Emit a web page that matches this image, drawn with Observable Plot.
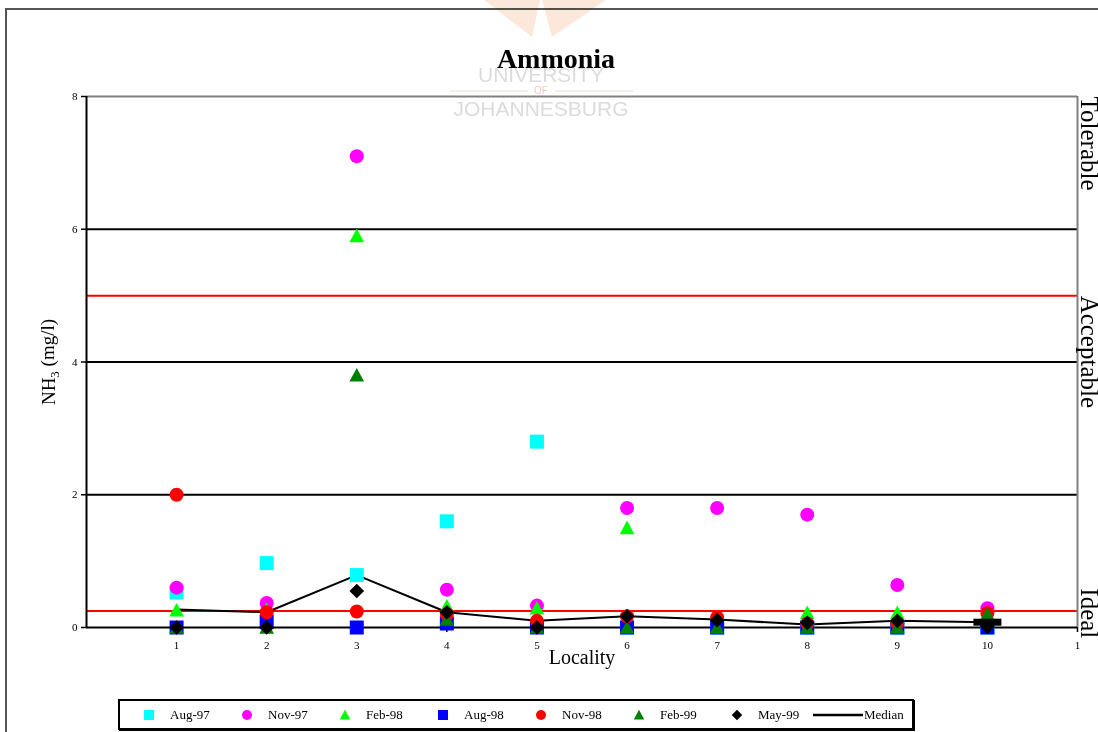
<!DOCTYPE html>
<html><head><meta charset="utf-8">
<script src="https://cdn.jsdelivr.net/npm/d3@7"></script>
<script src="https://cdn.jsdelivr.net/npm/@observablehq/plot@0.6"></script>
<style>
body{margin:0;background:#fff;font-family:"Liberation Serif","Times New Roman",serif;}
#wrap{position:relative;width:1098px;height:732px;overflow:hidden;background:#fff;}
#frame{position:absolute;left:5px;top:8px;width:1200px;height:800px;border-left:2px solid #555;border-top:2px solid #555;}
#chart{position:absolute;left:0;top:0;}
#title{position:absolute;left:0;width:1112px;top:45px;text-align:center;font-weight:bold;font-size:28px;line-height:28px;}
#legend{position:absolute;left:118px;top:699px;width:792px;height:27px;border:2px solid #000;box-shadow:1px 1px 0 #000;background:#fff;font-size:13px;}
.li{position:absolute;top:0;height:27px;line-height:27px;}
#wm{position:absolute;left:0;top:0;pointer-events:none;mix-blend-mode:multiply;}
</style></head>
<body>
<div id="wrap">
  <div id="frame"></div>
  <div id="chart"></div>
  <div id="title">Ammonia</div>
  <div id="legend"></div>
  <svg id="wm" width="1098" height="130"></svg>
</div>
<script>
// ---- data ----
const localities = [1, 2, 3, 4, 5, 6, 7, 8, 9, 10];
const seriesNames = ["Aug-97", "Nov-97", "Feb-98", "Aug-98", "Nov-98", "Feb-99", "May-99"];
const aug97 = [0.53, 0.97, 0.79, 1.6, 2.8, 0, 0, 0, 0, 0];
const nov97 = [0.6, 0.37, 7.1, 0.57, 0.33, 1.8, 1.8, 1.7, 0.64, 0.29];
const feb98 = [0.26, 0.27, 5.9, 0.32, 0.29, 1.5, 0.15, 0.22, 0.22, 0.2];
const aug98 = [0, 0.08, 0, 0.06, 0, 0, 0, 0, 0, 0];
const nov98 = [2.0, 0.23, 0.24, 0.2, 0.1, 0.17, 0.15, 0.06, 0.06, 0.22];
const feb99 = [0, 0, 3.8, 0.12, 0, 0, 0, 0, 0, 0.2];
const may99 = [0, 0, 0.55, 0.23, 0, 0.17, 0.11, 0.07, 0.1, 0.01];
const median = [0.27, 0.23, 0.79, 0.23, 0.1, 0.17, 0.12, 0.045, 0.1, 0.08];
const seriesValues = [aug97, nov97, feb98, aug98, nov98, feb99, may99];
const seriesColors = ["#00ffff", "#ff00ff", "#00ff00", "#0000ff", "#ff0000", "#008000", "#000000"];
const seriesShapes = ["square", "circle", "triangle", "square", "circle", "triangle", "diamond"];
const xTicks = [1, 2, 3, 4, 5, 6, 7, 8, 9, 10, 11];
const xTickLabels = ["1", "2", "3", "4", "5", "6", "7", "8", "9", "10", "1"];
const yTicks = [0, 2, 4, 6, 8];
const gridLevels = [2, 4, 6];
const limitLevels = [0.25, 5];
const zoneNames = ["Tolerable", "Acceptable", "Ideal"];
const zoneStarts = [8, 5, 0.59];

// ---- symbols ----
function makeSymbol(kind, h) {
  return {draw(c) {
    if (kind === "square") c.rect(-h, -h, 2 * h, 2 * h);
    else if (kind === "circle") { c.moveTo(h, 0); c.arc(0, 0, h, 0, 2 * Math.PI); }
    else if (kind === "triangle") { c.moveTo(0, -h * 1.05); c.lineTo(h * 1.05, h * 0.9); c.lineTo(-h * 1.05, h * 0.9); c.closePath(); }
    else if (kind === "diamond") { c.moveTo(0, -h * 1.05); c.lineTo(h * 1.05, 0); c.lineTo(0, h * 1.05); c.lineTo(-h * 1.05, 0); c.closePath(); }
    else if (kind === "bar") c.rect(-14, -3.5, 28, 7);
  }};
}

const rows = seriesNames.flatMap((s, i) => localities.map((l, j) => ({series: s, i, locality: l, value: seriesValues[i][j]})));
const medianRows = localities.map((l, j) => ({locality: l, value: median[j]}));
const zones = zoneNames.map((n, i) => ({name: n, start: zoneStarts[i]}));

const dotMarks = seriesNames.map((s, i) => Plot.dot(rows.filter(d => d.i === i), {
  x: "locality", y: "value", fill: seriesColors[i], stroke: "none", r: 7,
  symbol: makeSymbol(seriesShapes[i], 7)
}));

const plot = Plot.plot({
  width: 1098, height: 690,
  marginLeft: 86, marginRight: 21, marginTop: 96, marginBottom: 63,
  style: {fontFamily: "Liberation Serif, Times New Roman, serif", background: "transparent", color: "black"},
  x: {type: "linear", domain: [0, 11]},
  y: {type: "linear", domain: [0, 8]},
  marks: [
    Plot.ruleY(gridLevels, {stroke: "black", strokeWidth: 2}),
    Plot.ruleY(limitLevels, {stroke: "#ff0000", strokeWidth: 2}),
    Plot.ruleY([8], {stroke: "#808080", strokeWidth: 2}),
    Plot.ruleX([11], {stroke: "#808080", strokeWidth: 2}),
    Plot.ruleX([0], {stroke: "black", strokeWidth: 2}),
    Plot.ruleY([0], {stroke: "black", strokeWidth: 2}),
    Plot.axisY({ticks: yTicks, tickSize: 5, tickPadding: 4, fontSize: 11, label: null, strokeWidth: 1.5, tickFormat: d => String(d)}),
    Plot.axisX({ticks: xTicks, tickSize: 5, tickPadding: 9, fontSize: 11, label: null, strokeWidth: 1.5,
      tickFormat: d => xTickLabels[xTicks.indexOf(d)]}),
    Plot.text(["Locality"], {frameAnchor: "bottom", dy: 36, fontSize: 20}),
    Plot.line(medianRows, {x: "locality", y: "value", stroke: "black", strokeWidth: 2}),
    ...dotMarks,
    Plot.dot(medianRows.slice(-1), {x: "locality", y: "value", fill: "black", r: 7, symbol: makeSymbol("bar", 7)}),
    Plot.text(zones, {y: "start", text: "name", frameAnchor: "right", dx: 3, rotate: 90,
      textAnchor: "start", lineAnchor: "bottom", fontSize: 25})
  ]
});
document.getElementById("chart").appendChild(plot);

// y axis label with subscript
const svg = d3.select(plot);
const yl = svg.append("text")
  .attr("transform", "translate(48,362) rotate(-90)")
  .attr("text-anchor", "middle").attr("dy", "0.35em")
  .attr("font-size", 19).attr("fill", "black");
yl.append("tspan").text("NH");
yl.append("tspan").attr("font-size", 13).attr("dy", "0.3em").text("3");
yl.append("tspan").attr("dy", "-0.22em").text(" (mg/l)");

// legend
const legend = d3.select("#legend");
const legendItems = seriesNames.map((s, i) => ({name: s, color: seriesColors[i], shape: seriesShapes[i]}));
legendItems.push({name: "Median", color: "black", shape: "line"});
legendItems.forEach((it, i) => {
  const cx = 29 + i * 98;
  const item = legend.append("div").attr("class", "li").style("left", (it.shape === "line" ? cx - 22 : cx - 6) + "px");
  const sw = item.append("svg").attr("width", it.shape === "line" ? 50 : 12).attr("height", 12)
    .style("vertical-align", "middle").style("margin-top", "-3px");
  if (it.shape === "line") {
    sw.append("line").attr("x1", 0).attr("x2", 50).attr("y1", 6).attr("y2", 6).attr("stroke", "black").attr("stroke-width", 2.5);
  } else {
    const p = d3.path();
    makeSymbol(it.shape, 5).draw(p);
    sw.append("path").attr("transform", "translate(6,6)").attr("d", p.toString()).attr("fill", it.color);
  }
  item.append("span").style("margin-left", it.shape === "line" ? "1px" : "15px").text(it.name);
});

// faint watermark
const wm = d3.select("#wm");
wm.append("path").attr("d", "M484,0 L540,0 L532,37 Z M542,0 L606,0 L552,37 Z").attr("fill", "#fce8da");
wm.append("text").attr("x", 541).attr("y", 82).attr("text-anchor", "middle").attr("font-family", "Liberation Sans, Arial, sans-serif")
  .attr("font-size", 21).attr("fill", "#dcdcdc").text("UNIVERSITY");
wm.append("text").attr("x", 541).attr("y", 94).attr("text-anchor", "middle").attr("font-family", "Liberation Sans, Arial, sans-serif")
  .attr("font-size", 10).attr("fill", "#e6cdbd").text("OF");
wm.append("path").attr("d", "M450,91 L528,91 M555,91 L634,91").attr("stroke", "#ecdcd0").attr("stroke-width", 1);
wm.append("text").attr("x", 541).attr("y", 116).attr("text-anchor", "middle").attr("font-family", "Liberation Sans, Arial, sans-serif")
  .attr("font-size", 21).attr("fill", "#dcdcdc").text("JOHANNESBURG");
</script>
</body></html>
